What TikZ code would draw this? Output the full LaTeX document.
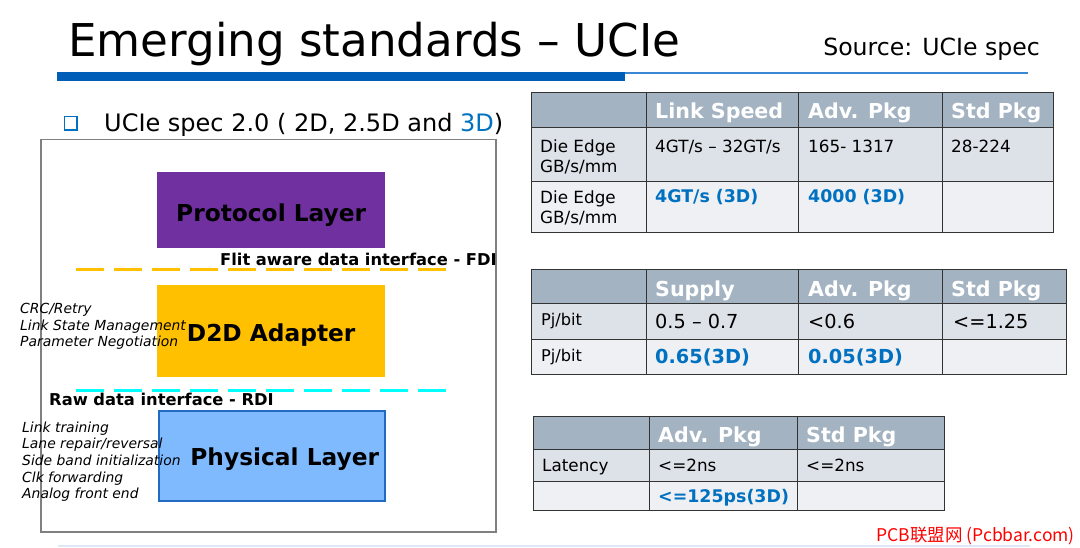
\documentclass[tikz,border=0pt]{standalone}
\usepackage{fontspec}
\setmainfont{DejaVu Sans}
\newfontfamily\cjk{Noto Sans CJK SC}
\definecolor{barblue}{HTML}{005EB8}
\definecolor{thinblue}{HTML}{3A87D6}
\definecolor{pale}{HTML}{DCE8F6}
\definecolor{purp}{HTML}{7030A0}
\definecolor{amber}{HTML}{FFC000}
\definecolor{skyb}{HTML}{7FBAFF}
\definecolor{skyedge}{HTML}{1F6BC5}
\definecolor{cyanl}{HTML}{00FFFF}
\definecolor{hdr}{HTML}{A3B3C2}
\definecolor{rowa}{HTML}{DDE1E8}
\definecolor{rowb}{HTML}{EEF0F4}
\definecolor{txtblue}{HTML}{0070C0}
\definecolor{frame}{HTML}{808080}
\begin{document}
\begin{tikzpicture}[x=1pt,y=-1pt,
  layerbox/.style={anchor=north west,inner sep=0pt,text height=17pt,text depth=0pt,font=\fontsize{23.3}{26}\selectfont\bfseries,text=black},
  side/.style={anchor=base west,inner sep=0pt,font=\fontsize{13.9}{16}\selectfont\itshape},
  iface/.style={anchor=base west,inner sep=0pt,font=\fontsize{16.3}{19}\selectfont\bfseries},
  dashline/.style={line width=3pt,dash pattern=on 28pt off 10pt},
  hd/.style={anchor=base west,inner sep=0pt,text=white,font=\fontsize{20.6}{24}\selectfont\bfseries},
  cell/.style={anchor=base west,inner sep=0pt,font=\fontsize{16.8}{19}\selectfont},
  small/.style={anchor=base west,inner sep=0pt,font=\fontsize{16.2}{19}\selectfont},
  big/.style={anchor=base west,inner sep=0pt,font=\fontsize{19.3}{22}\selectfont},
  hl/.style={anchor=base west,inner sep=0pt,text=txtblue,font=\fontsize{17.4}{20}\selectfont\bfseries},
  hlbig/.style={anchor=base west,inner sep=0pt,text=txtblue,font=\fontsize{19.3}{22}\selectfont\bfseries},
  grid/.style={draw=black!80,line width=1pt}]
\useasboundingbox (0,0) rectangle (1080,548);
% title
\node[anchor=base west,inner sep=0pt,font=\fontsize{45.2}{50}\selectfont] (title) at (68,57) {Emerging standards – UCIe};
\node[anchor=base east,inner sep=0pt,font=\fontsize{23.6}{27}\selectfont] (src) at (1040,56) {Source: UCIe spec};
\fill[barblue] (57,72) rectangle (625,81);
\draw[thinblue,line width=1.5pt] (625,72.8) -- (1028,72.8);
\draw[pale,line width=1.5pt] (58,546) -- (1030,546);
% bullet
\draw[txtblue,line width=1.8pt] (64.5,116.5) rectangle (77,130);
\node[anchor=base west,inner sep=0pt,font=\fontsize{24}{28}\selectfont] (bul) at (104,132) {UCIe spec 2.0 ( 2D, 2.5D and \textcolor{txtblue}{3D})};
% frame
\draw[frame,line width=1.3pt] (41,139.5) rectangle (496,532);
% layers
\node[layerbox,fill=purp,minimum width=228pt,minimum height=76pt] (proto) at (157,172) {\raisebox{-3pt}{Protocol Layer}};
\node[layerbox,fill=amber,minimum width=228pt,minimum height=92pt] (d2d) at (157,285) {\raisebox{-1.5pt}{D2D Adapter}};
\node[layerbox,fill=skyb,draw=skyedge,line width=1.5pt,minimum width=226pt,minimum height=90pt] (phy) at (158,410) {\hspace*{26pt}\raisebox{-1.5pt}{Physical Layer}};
% interfaces
\coordinate (fdiA) at (76,270);
\coordinate (fdiB) at (450,270);
\draw[amber,dashline] (fdiA) -- (fdiB);
\node[iface] (fdi) at (220,266) {Flit aware data interface - FDI};
\coordinate (rdiA) at (76,390);
\coordinate (rdiB) at (450,390);
\draw[cyanl,dashline] (rdiA) -- (rdiB);
\node[iface] (rdi) at (49,406) {Raw data interface - RDI};
% side notes
\node[side] (n1) at (20,314) {CRC/Retry};
\node[side] (n2) at (20,330.5) {Link State Management};
\node[side] (n3) at (20,347) {Parameter Negotiation};
\node[side] (p1) at (22,432) {Link training};
\node[side] (p2) at (22,448.7) {Lane repair/reversal};
\node[side] (p3) at (22,465.4) {Side band initialization};
\node[side] (p4) at (22,482.1) {Clk forwarding};
\node[side] (p5) at (22,498.8) {Analog front end};
% table 1
\fill[hdr] (531,93) rectangle (1053,128);
\fill[rowa] (531,128) rectangle (1053,182);
\fill[rowb] (531,182) rectangle (1053,233);
\draw[grid] (531,93) rectangle (1053,233);
\draw[grid] (531,128) -- (1053,128) (531,182) -- (1053,182);
\draw[grid] (646,93) -- (646,233) (798,93) -- (798,233) (942,93) -- (942,233);
\node[hd] (t1h1) at (655,119) {Link Speed};
\node[hd] (t1h2) at (808,119) {Adv. Pkg};
\node[hd] (t1h3) at (951,119) {Std Pkg};
\node[cell] (t1a) at (540,153) {Die Edge};
\node[cell] (t1b) at (540,172.5) {GB/s/mm};
\node[cell] (t1c) at (655,153) {4GT/s – 32GT/s};
\node[cell] (t1d) at (808,153) {165- 1317};
\node[cell] (t1e) at (951,153) {28-224};
\node[cell] (t1f) at (540,204) {Die Edge};
\node[cell] (t1g) at (540,223.5) {GB/s/mm};
\node[hl] (t1h) at (655,203) {4GT/s (3D)};
\node[hl] (t1i) at (808,203) {4000 (3D)};
% table 2
\fill[hdr] (531,270) rectangle (1066,304);
\fill[rowa] (531,304) rectangle (1066,340);
\fill[rowb] (531,340) rectangle (1066,374);
\draw[grid] (531,270) rectangle (1066,374);
\draw[grid] (531,304) -- (1066,304) (531,340) -- (1066,340);
\draw[grid] (646,270) -- (646,374) (798,270) -- (798,374) (942,270) -- (942,374);
\node[hd] (t2h1) at (655,297) {Supply};
\node[hd] (t2h2) at (808,297) {Adv. Pkg};
\node[hd] (t2h3) at (951,297) {Std Pkg};
\node[small] (t2a) at (541,326) {Pj/bit};
\node[big] (t2b) at (655,328.5) {0.5 – 0.7};
\node[big] (t2c) at (808,328.5) {<0.6};
\node[big] (t2d) at (953,328.5) {<=1.25};
\node[small] (t2e) at (541,361) {Pj/bit};
\node[hlbig] (t2f) at (655,363.5) {0.65(3D)};
\node[hlbig] (t2g) at (808,363.5) {0.05(3D)};
% table 3
\fill[hdr] (533,416) rectangle (944,449);
\fill[rowa] (533,449) rectangle (944,481);
\fill[rowb] (533,481) rectangle (944,510);
\draw[grid] (533,416) rectangle (944,510);
\draw[grid] (533,449) -- (944,449) (533,481) -- (944,481);
\draw[grid] (649,416) -- (649,510) (797,416) -- (797,510);
\node[hd] (t3h1) at (658,442) {Adv. Pkg};
\node[hd] (t3h2) at (806,442) {Std Pkg};
\node[cell] (t3a) at (542,471) {Latency};
\node[cell] (t3b) at (658,471) {<=2ns};
\node[cell] (t3c) at (806,471) {<=2ns};
\node[hl] (t3d) at (658,502) {<=125ps(3D)};
% watermark
\node[anchor=base east,inner sep=0pt,text=red,font=\cjk\fontsize{17.5}{19}\selectfont] (wm) at (1075,541) {PCB联盟网 (Pcbbar.com)};
\end{tikzpicture}
\end{document}
